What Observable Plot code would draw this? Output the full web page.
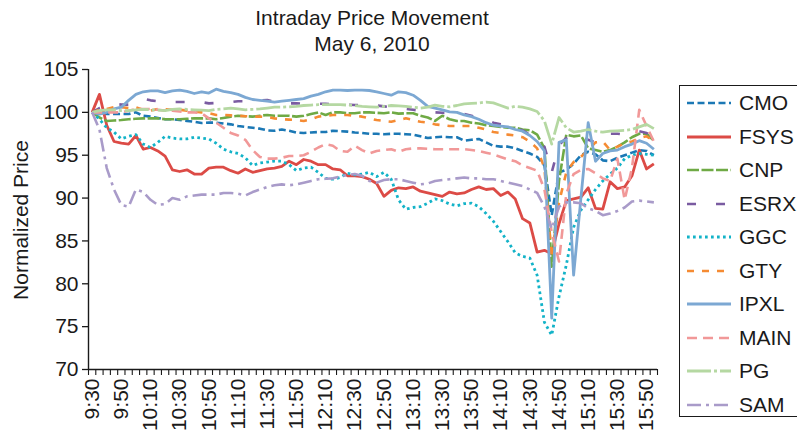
<!DOCTYPE html>
<html>
<head>
<meta charset="utf-8">
<script src="https://cdn.jsdelivr.net/npm/d3@7"></script>
<script src="https://cdn.jsdelivr.net/npm/@observablehq/plot@0.6"></script>
<style>
  html, body { margin: 0; padding: 0; background: #fff; }
  #wrap { position: relative; width: 797px; height: 433px; overflow: hidden; font-family: "Liberation Sans", Arial, sans-serif; color: #1a1a1a; }
  #title { position: absolute; left: 0; top: 5px; width: 744px; text-align: center; font-size: 21px; line-height: 26px; }
  #ylabel { position: absolute; left: 21px; top: 220px; transform: translate(-50%, -50%) rotate(-90deg); font-size: 21px; white-space: nowrap; }
  #chart { position: absolute; left: 0; top: 0; }
  #legend { position: absolute; left: 679px; top: 85px; width: 140px; height: 332px; border: 1.3px solid #1a1a1a; box-sizing: border-box; }
  .row { position: absolute; left: 0; height: 24px; display: flex; align-items: center; font-size: 21px; }
  .row svg { margin-left: 7px; margin-right: 8px; }
</style>
</head>
<body>
<div id="wrap">
  <div id="chart"></div>
  <div id="title">Intraday Price Movement<br>May 6, 2010</div>
  <div id="ylabel">Normalized Price</div>
  <div id="legend"></div>
</div>
<script>
const times = ["9:30","9:35","9:40","9:45","9:50","9:55","10:00","10:05","10:10","10:15","10:20","10:25","10:30","10:35","10:40","10:45","10:50","10:55","11:00","11:05","11:10","11:15","11:20","11:25","11:30","11:35","11:40","11:45","11:50","11:55","12:00","12:05","12:10","12:15","12:20","12:25","12:30","12:35","12:40","12:45","12:50","12:55","13:00","13:05","13:10","13:15","13:20","13:25","13:30","13:35","13:40","13:45","13:50","13:55","14:00","14:05","14:10","14:15","14:20","14:25","14:30","14:35","14:40","14:45","14:50","14:55","15:00","15:05","15:10","15:15","15:20","15:25","15:30","15:35","15:40","15:45","15:50","15:55"];
const tickLabels = ["9:30","9:50","10:10","10:30","10:50","11:10","11:30","11:50","12:10","12:30","12:50","13:10","13:30","13:50","14:10","14:30","14:50","15:10","15:30","15:50"];
const yTicks = [70, 75, 80, 85, 90, 95, 100, 105];
const names = ["CMO","FSYS","CNP","ESRX","GGC","GTY","IPXL","MAIN","PG","SAM"];

const CMO = [100,99.9,99.8,99.8,99.8,99.8,100.0,99.6,99.5,99.35,
 99.2,99.2,99.1,99.0,98.9,98.75,98.8,98.8,98.7,98.6,
 98.4,98.3,98.2,98.1,97.9,97.85,98.0,97.85,97.65,97.6,
 97.65,97.7,97.7,97.85,97.8,97.75,97.65,97.6,97.5,97.5,
 97.45,97.5,97.5,97.45,97.4,97.2,97.0,97.1,97.15,97.1,
 97.1,96.7,96.8,96.9,96.5,96.1,96.0,96.0,
 95.8,95.5,95.2,94.8,93.8,88.0,93.0,93.3,94.0,95.0,95.4,95.1,94.4,94.3,94.7,95.0,95.3,95.6,95.5,95.0];
const FSYS = [100,102.1,98.5,96.6,96.4,96.3,97.3,95.7,95.9,95.5,
 94.9,93.3,93.1,93.3,92.8,92.8,93.5,93.6,93.6,93.2,
 92.9,93.4,93.0,93.2,93.4,93.5,93.7,94.3,93.9,94.5,
 94.3,93.9,93.9,93.4,93.3,92.6,92.6,92.5,92.2,91.7,
 90.2,90.9,91.2,91.1,91.3,90.8,90.6,90.4,90.2,90.7,
 90.5,90.6,91.0,91.3,91.0,91.1,90.3,90.7,
 89.9,87.6,87.1,83.7,83.9,83.5,87.0,89.7,89.9,90.1,91.2,88.8,88.7,91.9,91.1,91.3,92.6,95.6,93.4,94.0];
const CNP = [100,99.4,99.0,99.05,99.1,99.2,99.25,99.3,99.3,99.3,
 99.2,99.2,99.2,99.25,99.3,99.3,99.3,99.2,99.35,99.5,
 99.6,99.55,99.5,99.6,99.7,99.6,99.6,99.6,99.5,99.6,
 99.8,100.0,99.7,100.0,100.0,99.9,99.9,100.0,100.0,99.95,
 99.9,100.0,99.85,99.9,99.9,99.6,99.4,99.0,99.6,99.2,
 99.0,99.0,98.8,98.7,98.5,98.4,98.3,98.2,
 98.2,98.0,97.9,97.4,95.8,82.0,92.0,97.4,97.2,97.3,95.8,95.6,95.4,95.6,96.0,96.5,97.1,97.5,97.5,96.7];
const ESRX = [100,100.5,100.8,101.0,100.9,100.9,101.1,101.6,101.4,101.3,
 101.2,101.2,101.2,101.2,101.2,101.2,101.05,101.1,101.15,101.2,
 101.3,101.3,101.35,101.4,101.45,101.2,101.1,101.05,101.05,101.0,
 101.0,101.0,101.0,100.95,100.9,100.9,100.85,100.85,100.8,100.8,
 100.7,100.6,100.5,100.4,100.3,100.2,100.0,100.0,99.95,99.9,
 99.85,99.8,99.6,99.4,99.2,98.8,98.6,98.4,98.2,97.9,97.4,96.7,
 96.0,93.0,96.2,97.0,97.5,97.2,96.8,96.5,96.8,97.5,97.5,97.4,97.5,97.8,97.6,96.9];
const GGC = [100,99.2,98.2,97.7,96.9,97.2,97.4,96.3,95.9,96.5,
 97.2,97.0,96.9,96.9,97.1,97.0,96.9,96.4,95.7,95.4,
 95.2,94.7,93.8,94.1,94.2,94.3,94.3,93.9,93.2,93.5,
 93.6,93.0,92.3,92.2,92.4,92.9,92.7,92.8,93.0,92.5,
 93.0,92.2,89.8,88.7,88.9,89.0,89.4,89.9,89.7,89.3,
 89.1,89.35,89.4,89.0,88.2,87.3,86.1,84.9,
 83.6,83.2,83.0,81.0,75.5,74.0,78.5,82.2,86.6,88.6,89.8,91.0,92.0,92.8,93.5,94.6,95.0,95.2,95.1,95.0];
const GTY = [100,100.3,100.4,100.6,100.6,100.5,100.6,100.3,100.2,100.4,
 100.35,100.3,100.3,100.2,100.1,100.0,99.9,99.7,99.7,99.65,
 99.6,99.55,99.5,99.5,99.45,99.3,99.2,99.15,99.1,99.0,
 99.2,99.5,99.6,99.7,99.7,99.7,99.6,99.5,99.3,99.1,
 99.0,98.9,99.1,99.3,99.1,98.9,98.8,98.6,98.5,98.4,
 98.4,98.4,98.4,98.2,98.0,97.7,97.6,97.4,
 97.3,97.1,96.6,95.8,93.5,83.0,89.5,93.0,94.2,94.8,95.6,96.5,96.6,95.6,96.0,96.4,96.6,97.0,97.2,96.7];
const IPXL = [100,99.8,100.0,100.4,100.6,101.4,102.1,102.4,102.5,102.5,
 102.3,102.5,102.6,102.45,102.2,102.4,102.25,102.7,102.45,102.3,
 102.1,101.75,101.5,101.4,101.3,101.2,101.3,101.4,101.5,101.6,
 101.9,102.1,102.4,102.6,102.6,102.55,102.6,102.6,102.55,102.4,
 102.2,102.0,102.4,102.3,102.0,101.4,100.7,100.5,100.3,100.05,
 100.0,99.7,99.5,99.2,98.8,98.5,98.4,98.3,
 98.0,97.8,97.3,96.6,95.5,76.0,96.5,96.8,81.0,90.0,98.8,94.3,95.2,95.5,95.6,96.0,96.3,96.7,96.4,95.7];
const MAIN = [100,100,100,100,100,100.2,100.4,100.4,100.4,100.3,
 100.2,100.2,100.1,100.0,100.0,99.9,99.3,98.8,98.2,97.6,
 97.3,96.8,95.6,94.8,94.6,94.6,94.7,94.9,94.9,95.0,
 95.4,95.9,96.3,96.1,95.5,95.4,96.1,95.6,95.2,95.5,
 95.6,95.7,95.4,95.7,95.8,95.8,95.75,95.7,95.7,95.7,
 95.7,95.7,95.6,95.5,95.3,95.1,94.8,94.5,
 94.3,93.8,93.5,93.2,91.0,86.0,82.6,90.5,92.8,93.3,93.4,92.9,92.3,92.0,94.6,89.8,93.5,100.3,98.4,96.6];
const PG = [100,100.2,100.3,100.3,100.2,100.2,100.3,100.35,100.3,100.25,
 100.2,100.35,100.4,100.35,100.3,100.25,100.2,100.35,100.4,100.5,
 100.4,100.3,100.35,100.4,100.5,100.6,100.6,100.65,100.7,100.8,
 100.85,100.9,100.9,100.9,100.9,100.85,100.8,100.7,100.65,100.6,
 100.7,100.8,100.75,100.7,100.6,100.5,100.6,100.85,100.7,100.65,
 100.8,101.0,101.05,101.1,101.2,101.1,100.8,100.5,
 100.7,100.6,100.4,100.1,99.0,96.3,99.4,98.2,97.7,97.8,98.0,97.8,97.7,97.8,97.85,97.9,98.0,98.3,98.6,98.1];
const SAM = [100,98.0,93.5,91.0,89.2,89.0,91.0,90.7,89.8,89.2,
 89.3,90.0,89.8,90.2,90.3,90.4,90.4,90.4,90.6,90.6,
 90.5,90.3,90.7,91.0,91.3,91.5,91.6,91.5,91.6,91.8,
 92.0,92.2,92.25,92.3,92.5,92.7,92.8,92.6,92.0,91.8,
 92.1,92.2,92.2,92.0,91.8,91.6,91.7,92.0,92.1,92.2,
 92.3,92.4,92.3,92.3,92.2,92.2,92.0,91.8,91.6,91.4,
 91.0,90.6,89.0,86.4,89.0,89.5,89.5,89.4,88.8,88.5,88.0,88.2,88.5,88.9,89.6,89.7,89.6,89.5];

const values = [CMO, FSYS, CNP, ESRX, GGC, GTY, IPXL, MAIN, PG, SAM];
const colors = ["#1b78b5","#dc4b46","#6faa45","#7a5ba1","#13b3c8","#f58b33","#7ca8d3","#f19898","#b5d8a2","#a99bc9"];
const dashes = ["7,3.5","none","12,2.5","9,20","2.7,3.3","7,8","none","10,6","24,3,3,3","14,5,3,5"];
const widths = [2.6,2.8,2.6,2.6,2.8,2.6,2.8,2.6,2.8,2.6];

const N = times.length;
const boundaries = d3.range(N + 1).map(k => k - 0.5);
const labelIdx = tickLabels.map(t => times.indexOf(t));

const marks = [];
values.forEach((vals, s) => {
  marks.push(Plot.lineY(vals, {
    x: (d, i) => i, y: d => d,
    stroke: colors[s], strokeWidth: widths[s],
    strokeDasharray: dashes[s], strokeLinejoin: "round", strokeLinecap: "butt"
  }));
});
marks.push(Plot.ruleY([70], {stroke: "#1a1a1a", strokeWidth: 1.4}));
marks.push(Plot.ruleX([-0.5], {stroke: "#1a1a1a", strokeWidth: 1.4}));
marks.push(Plot.axisY({ticks: yTicks, tickSize: 6, tickPadding: 4, fontSize: 21, label: null, color: "#1a1a1a", strokeWidth: 1.3}));
marks.push(Plot.axisX({ticks: boundaries, tickSize: 6, tickFormat: () => "", label: null, color: "#1a1a1a", strokeWidth: 1.1}));
marks.push(Plot.axisX({ticks: labelIdx, tickSize: 0, tickPadding: 9, tickRotate: -90, tickFormat: i => times[i], fontSize: 21, label: null, color: "#1a1a1a"}));

const chart = Plot.plot({
  width: 797, height: 433,
  marginLeft: 88, marginRight: 140, marginTop: 69, marginBottom: 64,
  x: {type: "linear", domain: [-0.5, N - 0.5], axis: null},
  y: {domain: [70, 105], axis: null},
  style: {fontFamily: "Liberation Sans, Arial, sans-serif", fontSize: "21px", background: "transparent", overflow: "visible"},
  marks
});
document.getElementById("chart").appendChild(chart);

const legend = document.getElementById("legend");
names.forEach((name, s) => {
  const row = document.createElement("div");
  row.className = "row";
  row.style.top = (17 + 33.5 * s - 12) + "px";
  const dash = dashes[s] === "none" ? "" : ` stroke-dasharray="${dashes[s]}"`;
  row.innerHTML = `<svg width="44" height="6"><line x1="0" y1="3" x2="44" y2="3" stroke="${colors[s]}" stroke-width="${widths[s]}"${dash}/></svg><span>${name}</span>`;
  legend.appendChild(row);
});
</script>
</body>
</html>
